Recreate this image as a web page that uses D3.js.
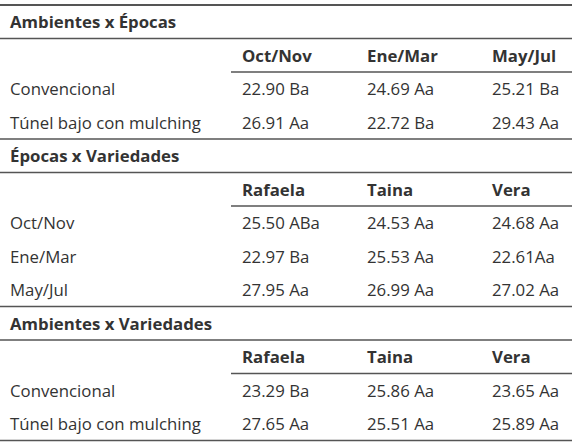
<!DOCTYPE html>
<html>
<head>
<meta charset="UTF-8">
<script src="https://cdn.jsdelivr.net/npm/d3@7"></script>
<style>body{margin:0;background:#fff}text{font-family:"Open Sans";font-size:16.8px;fill:#333}</style>
</head>
<body>
<script>
// secciones de la tabla
var titulos = ["Ambientes x Épocas", "Épocas x Variedades", "Ambientes x Variedades"];
var columnas = [["Oct/Nov","Ene/Mar","May/Jul"], ["Rafaela","Taina","Vera"], ["Rafaela","Taina","Vera"]];
var filas = [["Convencional","Túnel bajo con mulching"], ["Oct/Nov","Ene/Mar","May/Jul"], ["Convencional","Túnel bajo con mulching"]];
var valores = [
  [["22.90 Ba","24.69 Aa","25.21 Ba"],["26.91 Aa","22.72 Ba","29.43 Aa"]],
  [["25.50 ABa","24.53 Aa","24.68 Aa"],["22.97 Ba","25.53 Aa","22.61Aa"],["27.95 Aa","26.99 Aa","27.02 Aa"]],
  [["23.29 Ba","25.86 Aa","23.65 Aa"],["27.65 Aa","25.51 Aa","25.89 Aa"]]
];

var W = 575, H = 447, rowH = 33.5;
var svg = d3.select("body").append("svg").attr("width", W).attr("height", H);
var x = d3.scaleOrdinal().domain([0,1,2]).range([242, 367, 492]);

function linea(y, x1, w) {
  svg.append("line").attr("x1", x1).attr("x2", 572).attr("y1", y).attr("y2", y)
    .attr("stroke", "#555").attr("stroke-width", w);
}

var y0 = 5;
linea(y0, 0, 2);
titulos.forEach(function(t, s) {
  svg.append("text").attr("x", 10).attr("y", y0 + 23).style("font-weight", "bold").text(t);
  var yh = y0 + rowH;
  linea(yh, 0, 1.5);
  columnas[s].forEach(function(c, i) {
    svg.append("text").attr("x", x(i)).attr("y", yh + 23).style("font-weight", "bold").text(c);
  });
  linea(yh + rowH, 231, 1.5);
  filas[s].forEach(function(f, r) {
    var yr = yh + rowH * (r + 1) + 23;
    svg.append("text").attr("x", 10).attr("y", yr).text(f);
    valores[s][r].forEach(function(v, i) {
      svg.append("text").attr("x", x(i)).attr("y", yr).text(v);
    });
  });
  y0 = yh + rowH * (filas[s].length + 1);
  linea(y0, 0, 1.5);
});
</script>
</body>
</html>
